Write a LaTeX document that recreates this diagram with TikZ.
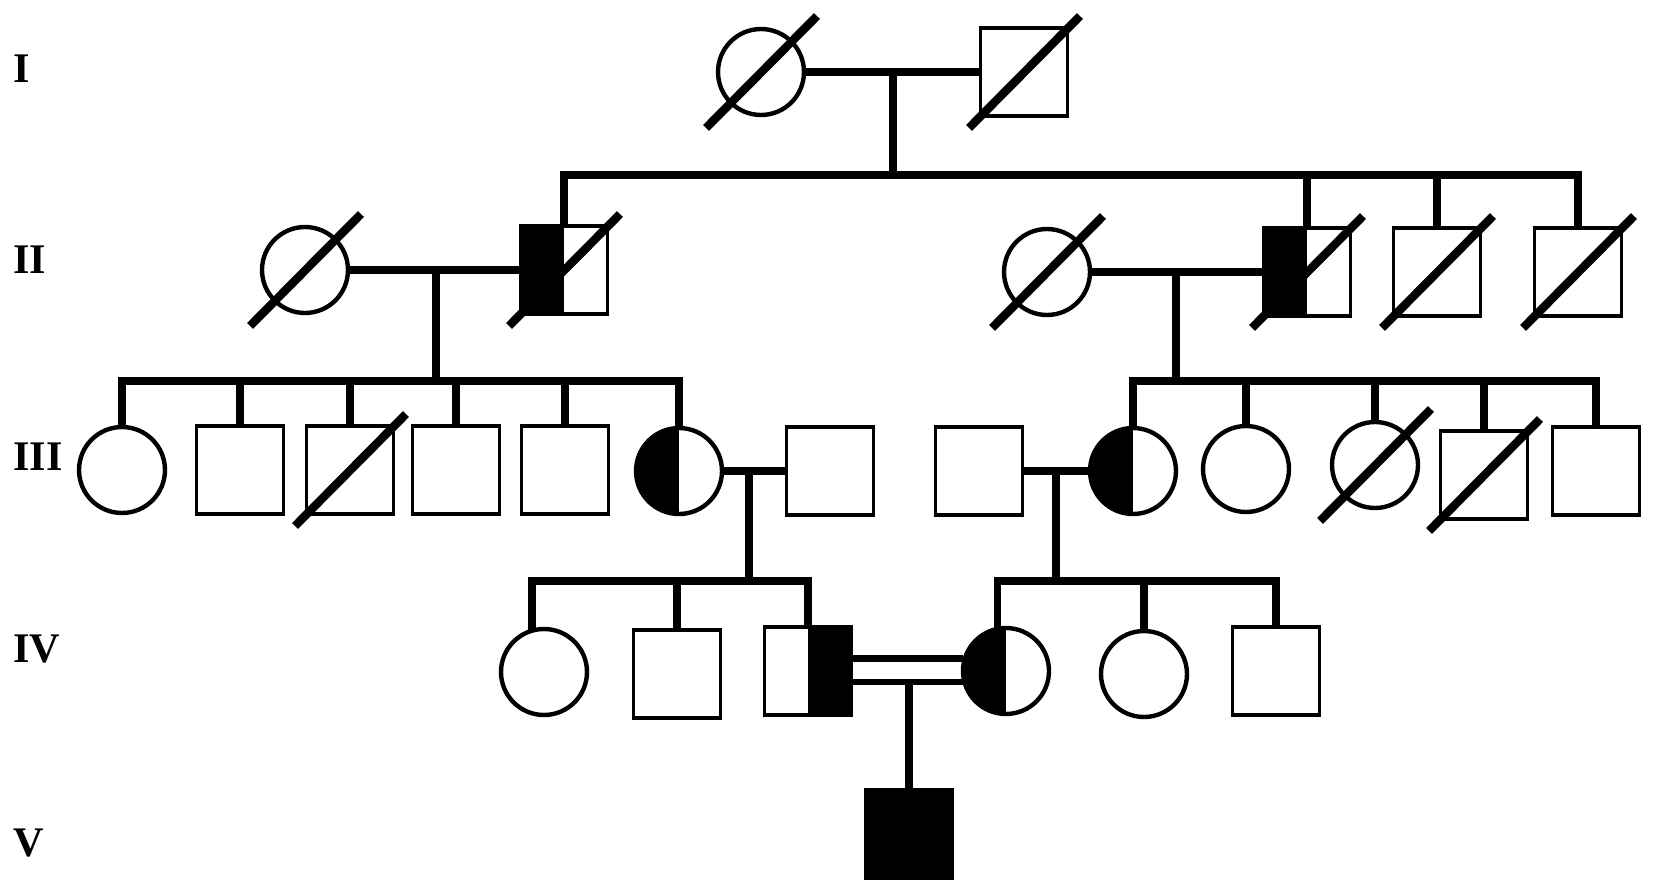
\documentclass[tikz,border=0pt]{standalone}
\usepackage{fontspec}
\setmainfont{Liberation Serif}
\usetikzlibrary{backgrounds}
\begin{document}
\begin{tikzpicture}[x=0.02cm,y=-0.02cm,
  person/.style={inner sep=0pt,outer sep=0pt,fill=white},
  male/.style={person,draw,rectangle,line width=1.8pt,minimum width=1.74cm,minimum height=1.76cm},
  female/.style={person,draw,circle,line width=2.5pt,minimum size=1.72cm},
  lefthalf/.style={path picture={\fill[black] (path picture bounding box.south west) rectangle (path picture bounding box.north);}},
  righthalf/.style={path picture={\fill[black] (path picture bounding box.south) rectangle (path picture bounding box.north east);}},
  affected/.style={fill=black},
  link/.style={line width=4.2pt,line cap=rect},
  twin/.style={line width=3.8pt},
  slash/.style={line width=4.8pt},
  gen/.style={inner sep=0pt,anchor=west,font=\fontsize{24pt}{24pt}\selectfont\bfseries}]
\useasboundingbox (0,0) rectangle (1654,892);

% generation labels
\node[gen] (gI) at (13,69) {I};
\node[gen] (gII) at (13,260) {II};
\node[gen] (gIII) at (13,457) {III};
\node[gen] (gIV) at (13,649) {IV};
\node[gen] (gV) at (13,843) {V};

% sibship levels (descent points)
\coordinate (s1) at (893,175);
\coordinate (s2) at (436,381);
\coordinate (s3) at (1176,381);
\coordinate (s6) at (749,581);
\coordinate (s8) at (1056,581);

% ---------- persons ----------
\node[female] (I1) at (761,72) {};
\node[male] (I2) at (1024,72) {};

\node[female] (II1) at (305,270) {};
\node[male,lefthalf] (II2) at (564,270) {};
\node[female] (II3) at (1047,272) {};
\node[male,lefthalf] (II4) at (1307,272) {};
\node[male] (II5) at (1437,272) {};
\node[male] (II6) at (1578,272) {};

\node[female] (III1) at (122,470) {};
\node[male] (III2) at (240,470) {};
\node[male] (III3) at (350,470) {};
\node[male] (III4) at (456,470) {};
\node[male] (III5) at (565,470) {};
\node[female,lefthalf] (III6) at (679,471) {};
\node[male] (III7) at (830,471) {};
\node[male] (III8) at (979,471) {};
\node[female,lefthalf] (III9) at (1133,471) {};
\node[female] (III10) at (1246,469) {};
\node[female] (III11) at (1375,465) {};
\node[male] (III12) at (1484,475) {};
\node[male] (III13) at (1596,471) {};

\node[female] (IV1) at (544,672) {};
\node[male] (IV2) at (677,674) {};
\node[male,righthalf] (IV3) at (808,671) {};
\node[female,lefthalf] (IV4) at (1006,671) {};
\node[female] (IV5) at (1144,674) {};
\node[male] (IV6) at (1276,671) {};

\node[male,affected] (V1) at (909,834) {};

% ---------- deceased slashes ----------
\foreach \n in {I1,I2,II1,II2,II3,II4,II5,II6,III3,III11,III12}
  \draw[slash] ([shift={(-1.1cm,-1.12cm)}]\n.center) -- ([shift={(1.12cm,1.12cm)}]\n.center);

% ---------- connectors (behind the symbols) ----------
\begin{pgfonlayer}{background}
% generation I
\draw[link] (I1.east) -- (I2.west);
\draw[link] (I1.east -| s1) -- (s1);
\draw[link] (II2.north |- s1) -- (II6.north |- s1);
\foreach \c in {II2,II4,II5,II6} \draw[link] (\c.north) -- (\c.north |- s1);

% generation II
\draw[link] (II1.east) -- (II2.west);
\draw[link] (II1.east -| s2) -- (s2);
\draw[link] (II3.east) -- (II4.west);
\draw[link] (II3.east -| s3) -- (s3);

% sibships III
\draw[link] (III1.north |- s2) -- (III6.north |- s2);
\foreach \c in {III1,III2,III3,III4,III5,III6} \draw[link] (\c.north) -- (\c.north |- s2);
\draw[link] (III9.north |- s3) -- (III13.north |- s3);
\foreach \c in {III9,III10,III11,III12,III13} \draw[link] (\c.north) -- (\c.north |- s3);

% generation III marriages
\draw[link] (III6.east) -- (III7.west);
\draw[link] (III6.east -| s6) -- (s6);
\draw[link] (III8.east) -- (III9.west);
\draw[link] (III8.east -| s8) -- (s8);

% sibships IV
\draw[link] (IV1.106 |- s6) -- (IV3.north |- s6);
\foreach \c in {IV1.106,IV2.north,IV3.north} \draw[link] (\c) -- (\c |- s6);
\draw[link] (IV4.101 |- s8) -- (IV6.north |- s8);
\foreach \c in {IV4.101,IV5.north,IV6.north} \draw[link] (\c) -- (\c |- s8);

% consanguineous marriage
\draw[twin] ([yshift=0.25cm]IV3.east) -- ([yshift=0.25cm]IV4.west);
\draw[twin] ([yshift=-0.22cm]IV3.east) coordinate (cb) -- ([yshift=-0.22cm]IV4.west);
\draw[link,line cap=butt] (cb -| V1.north) -- (V1.north);
\end{pgfonlayer}
\end{tikzpicture}
\end{document}
